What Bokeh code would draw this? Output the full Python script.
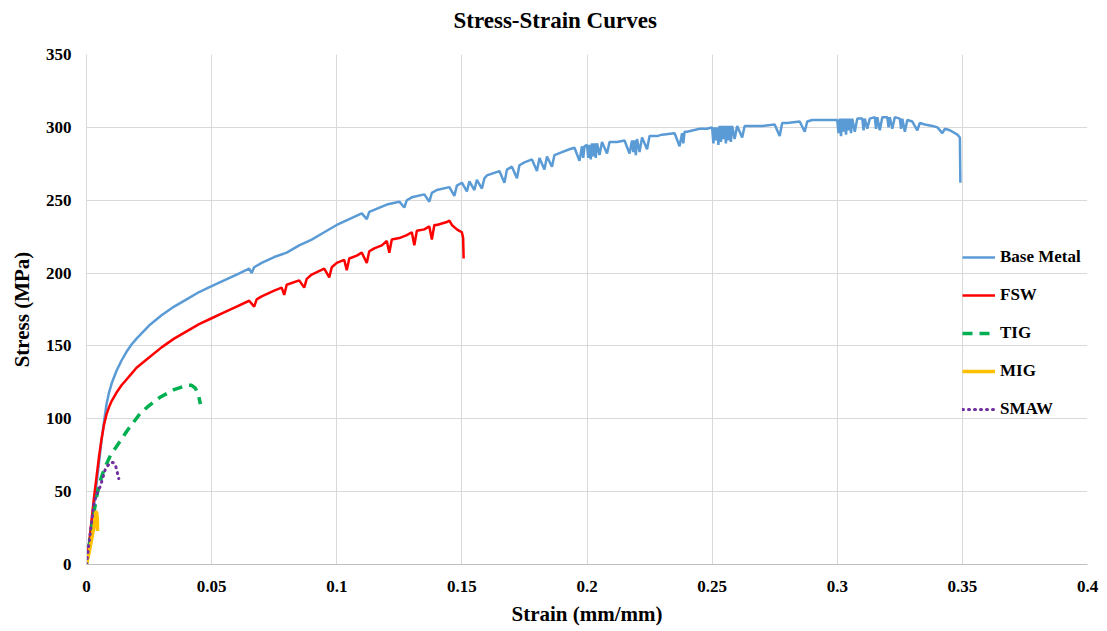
from bokeh.plotting import figure
from bokeh.models import Range1d, FixedTicker, Legend, LegendItem, Title
from bokeh.embed import file_html
from bokeh.resources import INLINE

# ---------------- data (strain mm/mm, stress MPa) ----------------
base_metal_points = [
    (0, 0), (0.001, 12), (0.002, 26), (0.003, 40), (0.004, 55), (0.005, 70), (0.006, 85), (0.007, 98),
    (0.008, 110), (0.009, 118), (0.010, 124), (0.012, 133), (0.014, 140), (0.016, 146), (0.018, 151),
    (0.020, 155), (0.025, 164), (0.030, 171), (0.035, 177), (0.040, 182), (0.045, 187), (0.050, 191),
    (0.055, 195), (0.060, 199), (0.065, 203), (0.066, 200), (0.067, 204), (0.070, 207), (0.075, 211),
    (0.080, 214), (0.085, 219), (0.090, 223), (0.095, 228), (0.100, 233), (0.105, 237), (0.110, 241),
    (0.112, 237), (0.113, 242), (0.120, 247), (0.125, 249), (0.127, 245), (0.128, 250), (0.130, 252),
    (0.135, 254), (0.137, 249), (0.138, 255), (0.140, 257), (0.145, 259), (0.147, 253), (0.148, 260),
    (0.150, 262), (0.152, 256), (0.153, 263), (0.155, 257), (0.156, 264), (0.158, 258), (0.159, 265),
    (0.160, 267), (0.165, 270), (0.167, 262), (0.168, 271), (0.170, 273), (0.172, 265), (0.173, 274),
    (0.175, 276), (0.178, 278), (0.180, 270), (0.181, 279), (0.183, 271), (0.184, 280), (0.186, 273),
    (0.187, 281), (0.190, 283), (0.193, 285), (0.195, 286), (0.197, 277), (0.198, 287), (0.1985, 279),
    (0.199, 287), (0.200, 288), (0.2005, 279), (0.201, 288), (0.2015, 278), (0.202, 289), (0.2025, 280),
    (0.203, 289), (0.2035, 279), (0.204, 289), (0.205, 281), (0.206, 290), (0.208, 282), (0.209, 290),
    (0.212, 290), (0.215, 291), (0.217, 282), (0.218, 291), (0.2185, 283), (0.219, 291), (0.2195, 281),
    (0.220, 292), (0.221, 283), (0.222, 293), (0.224, 285), (0.225, 294), (0.228, 294), (0.230, 295),
    (0.235, 296), (0.237, 287), (0.238, 296), (0.2385, 289), (0.239, 297), (0.240, 297), (0.245, 299),
    (0.248, 299), (0.250, 300), (0.2505, 289), (0.251, 300), (0.2515, 291), (0.252, 300), (0.2525, 288),
    (0.253, 301), (0.2535, 290), (0.254, 301), (0.2545, 292), (0.255, 301), (0.2555, 289), (0.256, 301),
    (0.2565, 291), (0.257, 301), (0.2575, 290), (0.258, 301), (0.259, 292), (0.260, 301), (0.262, 293),
    (0.263, 301), (0.265, 301), (0.270, 301), (0.275, 302), (0.277, 294), (0.278, 303), (0.280, 303),
    (0.285, 304), (0.287, 297), (0.288, 304), (0.290, 305), (0.295, 305), (0.298, 305), (0.300, 305),
    (0.3005, 296), (0.301, 306), (0.3015, 294), (0.302, 306), (0.3025, 297), (0.303, 306), (0.3035, 295),
    (0.304, 306), (0.3045, 298), (0.305, 306), (0.3055, 296), (0.306, 306), (0.307, 297), (0.308, 306),
    (0.310, 306), (0.3105, 298), (0.311, 306), (0.312, 299), (0.313, 306), (0.315, 307), (0.3155, 299),
    (0.316, 307), (0.317, 298), (0.318, 307), (0.320, 307), (0.3205, 300), (0.321, 307), (0.322, 299),
    (0.323, 307), (0.325, 306), (0.3255, 299), (0.326, 306), (0.327, 297), (0.328, 305), (0.330, 304),
    (0.332, 298), (0.333, 303), (0.335, 302), (0.338, 301), (0.340, 300), (0.342, 296), (0.343, 299),
    (0.345, 298), (0.348, 295), (0.349, 293), (0.3492, 262),
]

fsw_points = [
    (0, 0), (0.001, 14), (0.002, 30), (0.003, 46), (0.004, 60), (0.005, 74), (0.006, 86), (0.007, 96),
    (0.008, 103), (0.009, 108), (0.010, 112), (0.012, 118), (0.014, 123), (0.016, 127), (0.018, 131),
    (0.020, 135), (0.025, 142), (0.030, 149), (0.035, 155), (0.040, 160), (0.045, 165), (0.050, 169),
    (0.055, 173), (0.060, 177), (0.065, 181), (0.067, 177), (0.068, 182), (0.070, 184), (0.075, 188),
    (0.078, 190), (0.079, 185), (0.080, 192), (0.085, 195), (0.087, 190), (0.088, 196), (0.090, 199),
    (0.095, 203), (0.097, 197), (0.098, 204), (0.100, 207), (0.103, 209), (0.104, 202), (0.105, 210),
    (0.108, 212), (0.110, 214), (0.112, 207), (0.113, 215), (0.115, 217), (0.118, 219), (0.120, 222),
    (0.121, 214), (0.122, 223), (0.125, 224), (0.128, 226), (0.130, 228), (0.131, 219), (0.132, 229),
    (0.135, 230), (0.137, 232), (0.138, 223), (0.139, 233), (0.140, 233), (0.142, 234), (0.144, 235),
    (0.145, 236), (0.146, 233), (0.148, 230), (0.149, 229), (0.150, 228), (0.1505, 224), (0.1507, 210),
]

tig_points = [
    (0, 0), (0.001, 12), (0.002, 25), (0.003, 36), (0.004, 46), (0.005, 54), (0.006, 60), (0.007, 65),
    (0.008, 69), (0.0096, 75), (0.012, 81), (0.0136, 85), (0.0163, 92), (0.0216, 104), (0.025, 109),
    (0.0296, 115), (0.035, 120), (0.040, 123), (0.042, 123), (0.0435, 121), (0.0448, 116), (0.0455, 110),
]

mig_points = [
    (0, 0), (0.001, 8), (0.002, 17), (0.003, 26), (0.0035, 32), (0.0038, 37), (0.0040, 30),
    (0.0041, 36), (0.0042, 26), (0.0043, 33), (0.0044, 23),
]

smaw_points = [
    (0, 0), (0.0008, 12), (0.0016, 23), (0.0029, 41), (0.004, 48), (0.0056, 54), (0.0076, 66),
    (0.0096, 70), (0.0106, 70), (0.0116, 68), (0.0122, 64), (0.0129, 59),
]

x_ticks = [0, 0.05, 0.1, 0.15, 0.2, 0.25, 0.3, 0.35, 0.4]
x_labels = ["0", "0.05", "0.1", "0.15", "0.2", "0.25", "0.3", "0.35", "0.4"]
y_ticks = [0, 50, 100, 150, 200, 250, 300, 350]
y_labels = ["0", "50", "100", "150", "200", "250", "300", "350"]

series_names = ["Base Metal", "FSW", "TIG", "MIG", "SMAW"]
series_points = [base_metal_points, fsw_points, tig_points, mig_points, smaw_points]
chart_title = "Stress-Strain Curves"

# ---------------- figure ----------------
FONT = "Liberation Serif"

p = figure(width=1100, height=631, output_backend="svg", toolbar_location=None,
           x_range=Range1d(0, 0.4), y_range=Range1d(0, 350),
           min_border_left=86, min_border_right=13, min_border_top=54, min_border_bottom=67)
p.outline_line_color = None
p.background_fill_color = "white"
p.border_fill_color = "white"
p.title.standoff = 0

# spacer (nearest the frame) then the real title (outermost), centred on the whole chart
p.add_layout(Title(text=" ", text_font_size="2px", standoff=18), "above")
p.add_layout(Title(text=chart_title, align="left", offset=367, standoff=0,
                   text_font=FONT, text_font_style="bold", text_font_size="23px",
                   text_color="black"), "above")

p.xaxis.ticker = FixedTicker(ticks=x_ticks)
p.yaxis.ticker = FixedTicker(ticks=y_ticks)
p.xaxis.major_label_overrides = {t: l for t, l in zip(x_ticks, x_labels)}
p.yaxis.major_label_overrides = {t: l for t, l in zip(y_ticks, y_labels)}

for ax in (p.xaxis[0], p.yaxis[0]):
    ax.major_tick_line_color = None
    ax.minor_tick_line_color = None
    ax.major_tick_out = 0
    ax.major_tick_in = 0
    ax.minor_tick_out = 0
    ax.minor_tick_in = 0
    ax.major_label_text_font = FONT
    ax.major_label_text_font_style = "bold"
    ax.major_label_text_font_size = "17px"
    ax.major_label_text_color = "black"
    ax.axis_label_text_font = FONT
    ax.axis_label_text_font_style = "bold"
    ax.axis_label_text_font_size = "21px"
    ax.axis_label_text_color = "black"

p.xaxis.axis_label = "Strain (mm/mm)"
p.yaxis.axis_label = "Stress (MPa)"
p.xaxis.axis_line_color = "#bfbfbf"
p.yaxis.axis_line_color = "#d9d9d9"
p.xaxis.major_label_standoff = 16
p.xaxis.axis_label_standoff = 7
p.yaxis.major_label_standoff = 15
p.yaxis.axis_label_standoff = 9

p.xgrid.grid_line_color = "#d9d9d9"
p.ygrid.grid_line_color = "#d9d9d9"
p.xgrid.grid_line_width = 1
p.ygrid.grid_line_width = 1

styles = [
    dict(line_color="#5B9BD5", line_width=2.5),
    dict(line_color="#FF0000", line_width=2.5),
    dict(line_color="#00B050", line_width=3.5, line_dash="10 7"),
    dict(line_color="#FFC000", line_width=3.5),
    dict(line_color="#7030A0", line_width=3, line_dash="1 5", line_cap="round"),
]

renderers = []
for pts, st in zip(series_points, styles):
    xs = [a for a, b in pts]
    ys = [b for a, b in pts]
    renderers.append(p.line(xs, ys, **st))

legend = Legend(items=[LegendItem(label=n, renderers=[r]) for n, r in zip(series_names, renderers)],
                location=(876, 145), orientation="vertical",
                glyph_width=33, glyph_height=20, label_height=20, spacing=18,
                label_standoff=5, padding=0, margin=0,
                border_line_color=None, background_fill_alpha=0.0,
                label_text_font=FONT, label_text_font_style="bold",
                label_text_font_size="17px", label_text_color="black")
p.add_layout(legend, "center")

open("out.html", "w").write(file_html(p, INLINE))
